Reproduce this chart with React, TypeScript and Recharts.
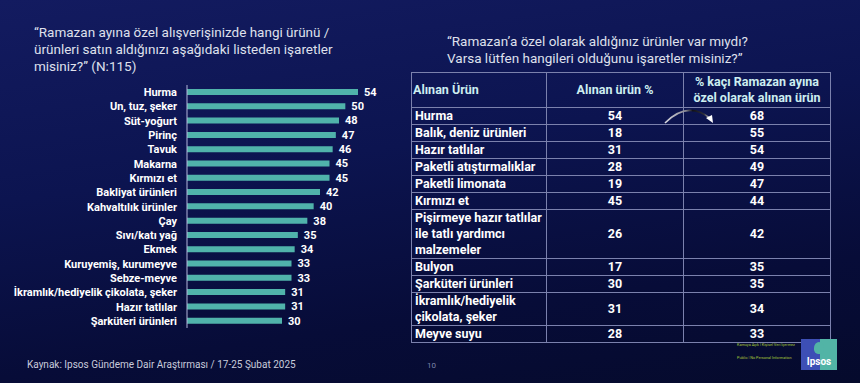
import React from 'react';
import { BarChart, Bar, XAxis, YAxis, LabelList } from 'recharts';

const categories = [
  'Hurma', 'Un, tuz, şeker', 'Süt-yoğurt', 'Pirinç', 'Tavuk', 'Makarna', 'Kırmızı et',
  'Bakliyat ürünleri', 'Kahvaltılık ürünler', 'Çay', 'Sıvı/katı yağ', 'Ekmek',
  'Kuruyemiş, kurumeyve', 'Sebze-meyve', 'İkramlık/hediyelik çikolata, şeker',
  'Hazır tatlılar', 'Şarküteri ürünleri',
];
const values = [54, 50, 48, 47, 46, 45, 45, 42, 40, 38, 35, 34, 33, 33, 31, 31, 30];

const tableHeaders = ['Alınan Ürün', 'Alınan ürün %', '% kaçı Ramazan ayına\nözel olarak alınan ürün'];
const tableProducts = [
  'Hurma', 'Balık, deniz ürünleri', 'Hazır tatlılar', 'Paketli atıştırmalıklar',
  'Paketli limonata', 'Kırmızı et', 'Pişirmeye hazır tatlılar\nile tatlı yardımcı\nmalzemeler',
  'Bulyon', 'Şarküteri ürünleri', 'İkramlık/hediyelik\nçikolata, şeker', 'Meyve suyu',
];
const boughtPct = [54, 18, 31, 28, 19, 45, 26, 17, 30, 31, 28];
const ramadanPct = [68, 55, 54, 49, 47, 44, 42, 35, 35, 34, 33];

const leftTitle = [
  '“Ramazan ayına özel alışverişinizde hangi ürünü /',
  'ürünleri satın aldığınızı aşağıdaki listeden işaretler',
  'misiniz?” (N:115)',
];
const rightTitle = [
  '“Ramazan’a özel olarak aldığınız ürünler var mıydı?',
  'Varsa lütfen hangileri olduğunu işaretler misiniz?”',
];
const sourceText = 'Kaynak: Ipsos Gündeme Dair Araştırması / 17-25 Şubat 2025';

const chartData = categories.map((name, i) => ({ name, value: values[i] }));

const rowHeights = [17, 17, 16, 16, 17, 16, 49, 16, 17, 32, 17];
const border = '1px solid #7b81ad';

function CategoryTick(props: any) {
  const { x, y, payload } = props;
  return (
    <text x={x} y={y} dy={4} textAnchor="end" fill="#ffffff" fontSize={11} fontWeight={700}>
      {payload.value}
    </text>
  );
}

export default function App() {
  return (
    <div
      style={{
        position: 'fixed',
        left: 0,
        top: 0,
        width: 860,
        height: 383,
        overflow: 'hidden',
        background: 'linear-gradient(172deg, #131b60 0%, #0c1450 40%, #070c38 75%, #050a2c 100%)',
        fontFamily: 'Roboto, "Noto Sans", sans-serif',
        color: '#fff',
      }}
    >
      <div style={{ position: 'absolute', left: 34, top: 24, fontSize: 13.5, lineHeight: '17px', color: '#dfe0ec' }}>
        {leftTitle.map((t, i) => (
          <div key={i} style={{ whiteSpace: 'nowrap' }}>{t}</div>
        ))}
      </div>
      <div style={{ position: 'absolute', left: 447, top: 33, fontSize: 13.5, lineHeight: '16.5px', color: '#dfe0ec' }}>
        {rightTitle.map((t, i) => (
          <div key={i} style={{ whiteSpace: 'nowrap' }}>{t}</div>
        ))}
      </div>

      <div style={{ position: 'absolute', left: 0, top: 0 }}>
        <BarChart
          width={400}
          height={340}
          data={chartData}
          layout="vertical"
          margin={{ top: 85, right: 23, bottom: 12, left: 0 }}
          barCategoryGap={0}
        >
          <XAxis type="number" domain={[0, 60]} hide />
          <YAxis
            type="category"
            dataKey="name"
            width={187}
            interval={0}
            tickLine={false}
            tickSize={0}
            tickMargin={10}
            axisLine={{ stroke: '#b4b6dc', strokeWidth: 1 }}
            tick={<CategoryTick />}
          />
          <Bar dataKey="value" fill="#50b3ab" barSize={6} isAnimationActive={false}>
            <LabelList dataKey="value" position="right" offset={6} fill="#ffffff" fontSize={11} fontWeight={700} />
          </Bar>
        </BarChart>
      </div>

      <table
        style={{
          position: 'absolute',
          left: 411,
          top: 72,
          width: 419,
          borderCollapse: 'collapse',
          tableLayout: 'fixed',
          fontSize: 12.5,
          fontWeight: 700,
          lineHeight: '16px',
        }}
      >
        <colgroup>
          <col style={{ width: 135 }} />
          <col style={{ width: 137 }} />
          <col style={{ width: 147 }} />
        </colgroup>
        <thead>
          <tr style={{ height: 35 }}>
            {tableHeaders.map((h, i) => (
              <th
                key={i}
                style={{
                  border,
                  padding: '0 1px',
                  color: '#cdeef0',
                  fontWeight: 700,
                  textAlign: i === 0 ? 'left' : 'center',
                  whiteSpace: 'pre-line',
                  lineHeight: '16px',
                }}
              >
                {h}
              </th>
            ))}
          </tr>
        </thead>
        <tbody>
          {tableProducts.map((p, i) => (
            <tr key={i} style={{ height: rowHeights[i] }}>
              <td style={{ border, padding: '0 1px 0 3px', whiteSpace: 'pre-line', textAlign: 'left' }}>{p}</td>
              <td style={{ border, padding: 0, textAlign: 'center' }}>{boughtPct[i]}</td>
              <td style={{ border, padding: 0, textAlign: 'center' }}>{ramadanPct[i]}</td>
            </tr>
          ))}
        </tbody>
      </table>

      <svg style={{ position: 'absolute', left: 0, top: 0 }} width={860} height={383}>
        <defs>
          <linearGradient id="arcGrad" x1="0" y1="0" x2="1" y2="0">
            <stop offset="0%" stopColor="#d8d8e0" />
            <stop offset="45%" stopColor="#8a8a95" />
            <stop offset="60%" stopColor="#111118" />
            <stop offset="85%" stopColor="#30303a" />
            <stop offset="100%" stopColor="#ffffff" />
          </linearGradient>
        </defs>
        <path d="M665 123 Q688 100 711 119" fill="none" stroke="url(#arcGrad)" strokeWidth={1.6} />
        <path d="M706 118 L713 123 L712 115 Z" fill="#ffffff" />
      </svg>

      <div style={{ position: 'absolute', left: 27, top: 359, fontSize: 10, color: '#c9cbdc', whiteSpace: 'nowrap' }}>
        {sourceText}
      </div>
      <div style={{ position: 'absolute', left: 427, top: 361, fontSize: 8, color: '#7c84a8' }}>10</div>
      <div style={{ position: 'absolute', left: 737, top: 342, fontSize: 3.8, lineHeight: '5px', color: '#a9c83a', whiteSpace: 'nowrap' }}>
        Kamuya Açık | Kişisel Veri İçermez
      </div>
      <div style={{ position: 'absolute', left: 737, top: 355, fontSize: 3.8, lineHeight: '5px', color: '#a9c83a', whiteSpace: 'nowrap' }}>
        Public | No Personal Information
      </div>
      <div style={{ position: 'absolute', left: 801, top: 339, width: 36, height: 31, overflow: 'hidden' }}>
        <div style={{ position: 'absolute', left: 0, top: 0, width: 36, height: 31, background: '#3d4fb5' }} />
        <div style={{ position: 'absolute', left: 19, top: 0, width: 17, height: 31, background: '#52b4a6' }} />
        <div style={{ position: 'absolute', left: 13, top: 3, width: 10, height: 12, borderRadius: '50% 50% 40% 40%', background: '#52b4a6' }} />
        <div
          style={{
            position: 'absolute',
            left: 0,
            top: 17,
            width: 36,
            textAlign: 'center',
            fontSize: 10,
            fontWeight: 700,
            color: '#fff',
            lineHeight: '12px',
          }}
        >
          Ipsos
        </div>
      </div>
    </div>
  );
}
